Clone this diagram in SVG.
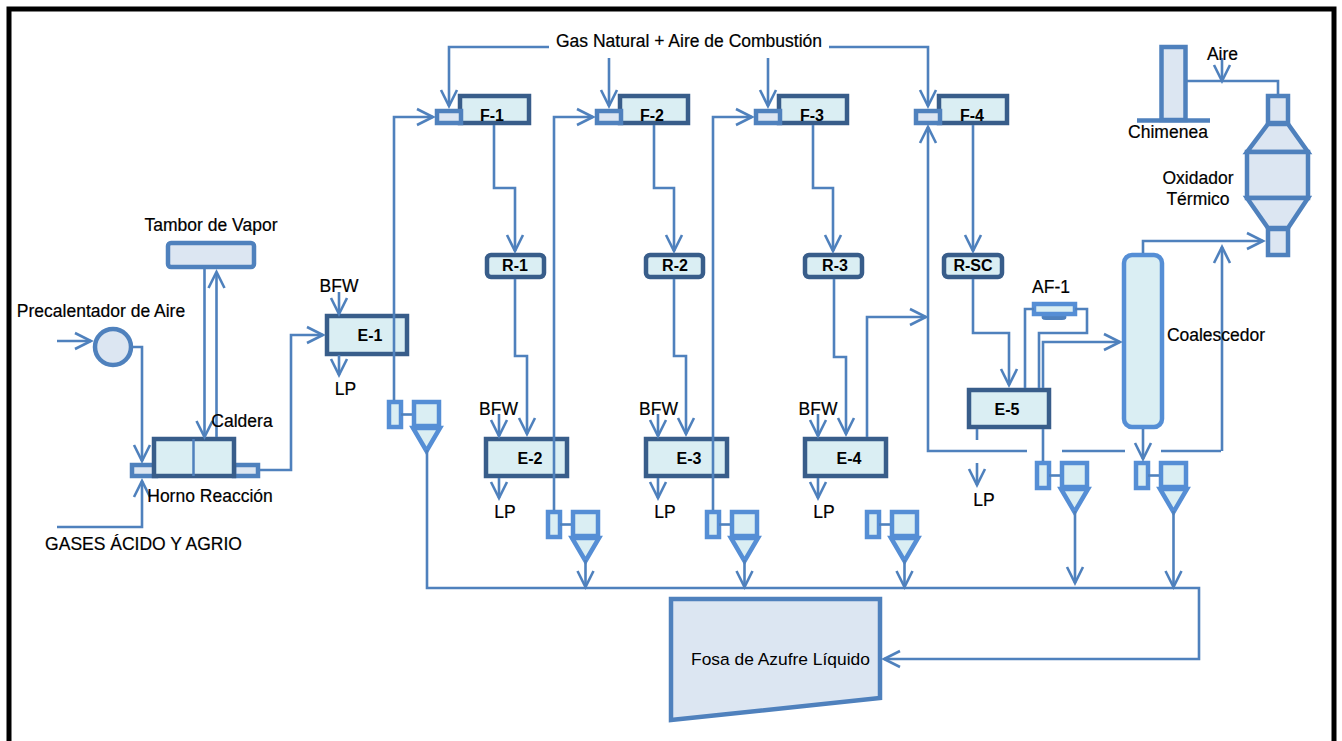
<svg xmlns="http://www.w3.org/2000/svg" width="1342" height="741" viewBox="0 0 1342 741">
<style>
text{font-family:"Liberation Sans",Arial,sans-serif;font-size:17.5px;fill:#000;stroke:#000;stroke-width:.2;text-anchor:middle}
.b{font-weight:bold;font-size:16px;stroke:none}
.c path{fill:none;stroke:#4f81bd;stroke-width:2.6}
.m{marker-end:url(#a)}
.h{fill:#daeef3;stroke:#385d8a;stroke-width:4.5}
.l{fill:#daeef3;stroke:#558ed5;stroke-width:4.5}
.d{fill:#dce6f2;stroke:#4f81bd;stroke-width:4.5}
</style>
<defs>
<marker id="a" markerUnits="userSpaceOnUse" markerWidth="20" markerHeight="20" refX="17" refY="10" orient="auto"><path d="M1 2L17 10L1 18" fill="none" stroke="#4f81bd" stroke-width="2.6"/></marker>
<symbol id="cy" overflow="visible"><rect x="2" y="2" width="12" height="25" class="l"/><path d="M14 14.500H27" fill="none" stroke="#4f81bd" stroke-width="2.600"/><rect x="27" y="2" width="25" height="24" class="l"/><path d="M26 28H53L39.500 51Z" class="l"/></symbol>
</defs>
<rect id="frame" x="9" y="9" width="1325" height="745" fill="#fff" stroke="#000" stroke-width="5"/>
<g id="tambor"><rect x="168" y="243" width="86" height="24" rx="3" class="d"/></g>
<g id="precalentador"><circle cx="113" cy="347" r="18" class="d"/></g>
<g id="horno"><rect x="132" y="465" width="24" height="11" class="d"/><rect x="234" y="465" width="24" height="11" class="d"/><rect x="154" y="439" width="80" height="37" class="h"/><path d="M193.500 439V476" fill="none" stroke="#4f81bd" stroke-width="2.500"/></g>
<g id="e1"><rect x="327" y="316" width="80" height="38" class="h"/></g>
<g id="e2"><rect x="486" y="439" width="81" height="37" class="h"/></g>
<g id="e3"><rect x="646" y="439" width="81" height="37" class="h"/></g>
<g id="e4"><rect x="805" y="439" width="81" height="37" class="h"/></g>
<g id="e5"><rect x="969" y="390" width="80" height="37" class="h"/></g>
<g id="f1"><rect x="460" y="96" width="69" height="27" class="h"/><rect x="437" y="111" width="24" height="12" class="d"/></g>
<g id="f2"><rect x="620" y="96" width="68" height="27" class="h"/><rect x="597" y="111" width="24" height="12" class="d"/></g>
<g id="f3"><rect x="779" y="96" width="68" height="27" class="h"/><rect x="756" y="111" width="24" height="12" class="d"/></g>
<g id="f4"><rect x="939" y="96" width="68" height="27" class="h"/><rect x="916" y="111" width="24" height="12" class="d"/></g>
<g id="r1"><rect x="487" y="255" width="57" height="22" rx="4" class="h"/></g>
<g id="r2"><rect x="646" y="255" width="57" height="22" rx="4" class="h"/></g>
<g id="r3"><rect x="805" y="255" width="57" height="22" rx="4" class="h"/></g>
<g id="rsc"><rect x="944" y="255" width="58" height="22" rx="4" class="h"/></g>
<g id="af1"><path d="M1042 315h24q2 5-4 5h-16q-6 0-4-5z" fill="#4f81bd"/><rect x="1034" y="304" width="41" height="10" class="l"/></g>
<g id="coalescedor"><rect x="1124" y="255" width="38" height="172" rx="8" class="l"/></g>
<g id="cy1"><use href="#cy" x="387" y="400"/></g>
<g id="cy2"><use href="#cy" x="546" y="510"/></g>
<g id="cy3"><use href="#cy" x="705" y="510"/></g>
<g id="cy4"><use href="#cy" x="865" y="510"/></g>
<g id="cy5"><use href="#cy" x="1035" y="461"/></g>
<g id="cy6"><use href="#cy" x="1134" y="461"/></g>
<g id="chimenea"><rect x="1161.500" y="47" width="24" height="73" class="d"/><path d="M1137 120.500H1210" fill="none" stroke="#4f81bd" stroke-width="4.500"/></g>
<g id="oxidador"><rect x="1268" y="96" width="20" height="27" class="d"/><path d="M1268 124H1288L1308 152H1247Z" class="d"/><rect x="1247" y="152" width="61" height="46" class="d"/><path d="M1247 198H1308L1288 228H1268Z" class="d"/><rect x="1268" y="229" width="20" height="26" class="d"/></g>
<g id="fosa"><path d="M671 599H880V698L671 720Z" class="d"/></g>
<g id="connectors" class="c">
<path class="m" d="M57 341H91"/>
<path class="m" d="M131 347H142V461"/>
<path class="m" d="M57 527H142V481"/>
<path class="m" d="M204.500 268V437"/>
<path class="m" d="M216.500 437V272"/>
<path class="m" d="M258 470H291V335H323"/>
<path class="m" d="M339 292V314"/>
<path class="m" d="M339 355V375"/>
<path class="m" d="M394 400V117H433"/>
<path class="m" d="M554 510V117H593"/>
<path class="m" d="M713 510V117H752"/>
<path class="m" d="M549 47H449V106"/>
<path class="m" d="M609 58V106"/>
<path class="m" d="M768 58V106"/>
<path class="m" d="M829 47H928V106"/>
<path class="m" d="M494 125V188H515V251"/>
<path class="m" d="M654 125V188H674V251"/>
<path class="m" d="M813 125V188H833V251"/>
<path class="m" d="M973 125V251"/>
<path class="m" d="M515 279V356H527V434"/>
<path class="m" d="M674 279V356H686V434"/>
<path class="m" d="M834 279V357H846V434"/>
<path class="m" d="M499 414V436"/>
<path class="m" d="M658 414V436"/>
<path class="m" d="M818 414V436"/>
<path class="m" d="M499 478V498"/>
<path class="m" d="M658 478V498"/>
<path class="m" d="M818 478V498"/>
<path class="m" d="M867 437V317H926"/>
<path class="m" d="M1027 451H928V127"/>
<path d="M1062 451H1125M1161 451H1221"/>
<path class="m" d="M973 279V333H1009V385"/>
<path d="M1025 388V309H1034"/>
<path d="M1075 309H1087V333H1039V388"/>
<path class="m" d="M1043 388V342H1120"/>
<path d="M977 429V440"/>
<path class="m" d="M977 463V485"/>
<path d="M1043 429V461"/>
<path class="m" d="M1143 429V459"/>
<path class="m" d="M1143 253V241H1263"/>
<path class="m" d="M1222 58V81"/>
<path d="M1186 81H1278V94"/>
<path class="m" d="M1222 451V247"/>
<path class="m" d="M427 450V588H1199V659H884"/>
<path class="m" d="M585.500 560V587"/>
<path class="m" d="M744.500 560V587"/>
<path class="m" d="M904.500 560V587"/>
<path class="m" d="M1075 511V583"/>
<path class="m" d="M1173.500 511V587"/>
</g>
<g id="labels">
<text x="211" y="231">Tambor de Vapor</text>
<text x="101" y="317">Precalentador de Aire</text>
<text x="242" y="427">Caldera</text>
<text x="210" y="502">Horno Reacción</text>
<text x="143.500" y="550">GASES ÁCIDO Y AGRIO</text>
<text x="339" y="292">BFW</text>
<text x="345.500" y="395">LP</text>
<text x="370" y="341" class="b">E-1</text>
<text x="689" y="47">Gas Natural + Aire de Combustión</text>
<text x="492" y="121" class="b">F-1</text>
<text x="652" y="121" class="b">F-2</text>
<text x="812" y="121" class="b">F-3</text>
<text x="972" y="121" class="b">F-4</text>
<text x="515" y="271" class="b">R-1</text>
<text x="675" y="271" class="b">R-2</text>
<text x="835" y="271" class="b">R-3</text>
<text x="973" y="271" class="b">R-SC</text>
<text x="498.500" y="415">BFW</text>
<text x="658.500" y="415">BFW</text>
<text x="818" y="415">BFW</text>
<text x="530" y="464" class="b">E-2</text>
<text x="689" y="464" class="b">E-3</text>
<text x="849" y="464" class="b">E-4</text>
<text x="1007" y="415" class="b">E-5</text>
<text x="505" y="518">LP</text>
<text x="665" y="518">LP</text>
<text x="824" y="518">LP</text>
<text x="984" y="506">LP</text>
<text x="1051" y="293">AF-1</text>
<text x="1216" y="341">Coalescedor</text>
<text x="1168" y="138">Chimenea</text>
<text x="1222.500" y="60">Aire</text>
<text x="1198" y="184">Oxidador</text>
<text x="1198" y="205">Térmico</text>
<text x="780.500" y="665" style="font-size:17.400px;stroke:none">Fosa de Azufre Líquido</text>
</g>
</svg>
